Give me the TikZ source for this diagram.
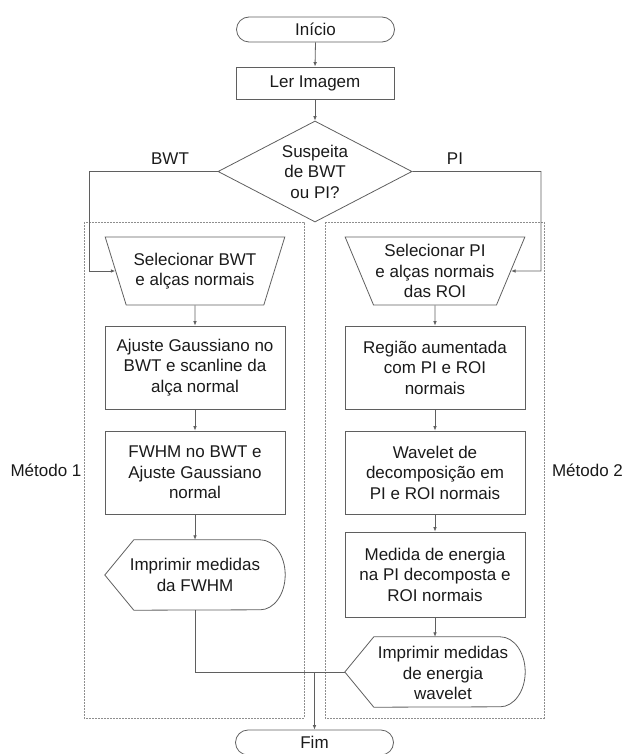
\documentclass[tikz,border=0pt]{standalone}
\usepackage{fontspec}
\setmainfont{Liberation Sans}
\usetikzlibrary{shapes.geometric,arrows.meta}
\definecolor{linec}{HTML}{5F5F5F}
\definecolor{dashc}{HTML}{8E8E8E}
\definecolor{txtc}{HTML}{1A1A1A}
\begin{document}
\begin{tikzpicture}[x=1pt,y=-1pt,
  base/.style={font=\fontsize{17}{20.5}\selectfont, text=txtc, align=center, inner sep=0pt},
  box/.style={base, draw=linec, line width=0.8pt, rectangle, minimum width=180pt},
  term/.style={base, draw=linec, line width=0.8pt, rectangle, rounded corners=12.5pt, minimum width=158pt, minimum height=25pt},
  trap/.style={base, draw=linec, line width=0.8pt, trapezium, shape border rotate=180,
     trapezium left angle=62.8, trapezium right angle=62.8, trapezium stretches=true,
     minimum width=180pt, minimum height=68pt},
  dispbox/.style={base, minimum width=180pt, minimum height=70pt},
  conn/.style={draw=linec, line width=0.8pt},
  arr/.style={conn, -{Latex[length=4.5pt,width=3.6pt]}},
  grp/.style={draw=dashc, line width=0.8pt, dash pattern=on 1.6pt off 1.4pt},
  lab/.style={base}
]
\useasboundingbox (0,0) rectangle (624,754);

% groups
\draw[grp] (84,222) rectangle (304,718);
\draw[grp] (325,222) rectangle (544,718);
\node[lab] (m1) at (46,470) {Método 1};
\node[lab] (m2) at (587.5,470) {Método 2};

% top
\node[term] (ini) at (315.5,29.5) {Início};
\node[box, minimum width=158pt, minimum height=32pt] (ler) at (315,83) {Ler Imagem};
\node[base, draw=linec, line width=0.8pt, diamond, aspect=1.92, minimum width=194pt, minimum height=101pt] (diam) at (315,171.5) {Suspeita\\de BWT\\ou PI?};
\node[lab] (lbwt) at (170,159) {BWT};
\node[lab] (lpi) at (455,159) {PI};

% left column
\node[trap] (t1) at (195,271) {Selecionar BWT\\e alças normais};
\node[box, minimum height=83pt] (r1) at (195,367.5) {Ajuste Gaussiano no\\BWT e scanline da\\alça normal};
\node[box, minimum height=83pt] (r2) at (195,472.5) {FWHM no BWT e\\Ajuste Gaussiano\\normal};
\node[dispbox] (d1) at (195,575) {Imprimir medidas\\da FWHM};
\draw[conn] (d1.west) -- ([xshift=29pt]d1.north west) -- ([xshift=-25pt]d1.north east)
   arc[start angle=90,end angle=-90,x radius=25pt,y radius=35pt] -- ([xshift=29pt]d1.south west) -- cycle;

% right column
\node[trap] (t2) at (435,271) {Selecionar PI\\e alças normais\\das ROI};
\node[box, minimum height=83pt] (r3) at (435,367.5) {Região aumentada\\com PI e ROI\\normais};
\node[box, minimum height=83pt] (r4) at (435,472.5) {Wavelet de\\decomposição em\\PI e ROI normais};
\node[box, minimum height=85pt] (r5) at (435,574.5) {Medida de energia\\na PI decomposta e\\ROI normais};
\node[dispbox] (d2) at (435,672) {};
\draw[conn] (d2.west) -- ([xshift=29pt]d2.north west) -- ([xshift=-25pt]d2.north east)
   arc[start angle=90,end angle=-90,x radius=25pt,y radius=35pt] -- ([xshift=29pt]d2.south west) -- cycle;
\node[base] (d2t) at (443,673) {Imprimir medidas\\de energia\\wavelet};

\node[term] (fim) at (314.5,742.5) {Fim};

% connectors
\draw[arr] (ini.south) -- (ler.north);
\draw[arr] (ler.south) -- (diam.north);
\coordinate (bl1) at (89,171.5);
\coordinate (bl2) at (89,271);
\coordinate (br1) at (541,171.5);
\coordinate (br2) at (541,271);
\draw[arr] (diam.west) -- (bl1) -- (bl2) -- (t1);
\draw[arr] (diam.east) -- (br1) -- (br2) -- (t2);
\draw[arr] (t1) -- (r1);
\draw[arr] (r1) -- (r2);
\draw[arr] (r2) -- (d1);
\draw[arr] (t2) -- (r3);
\draw[arr] (r3) -- (r4);
\draw[arr] (r4) -- (r5);
\draw[arr] (r5) -- (d2);
\coordinate (c1) at (195,672);
\coordinate (jn) at (314.5,672);
\draw[conn] (d1.south) -- (c1) -- (d2.west);
\draw[arr] (jn) -- (fim.north);
\end{tikzpicture}
\end{document}
